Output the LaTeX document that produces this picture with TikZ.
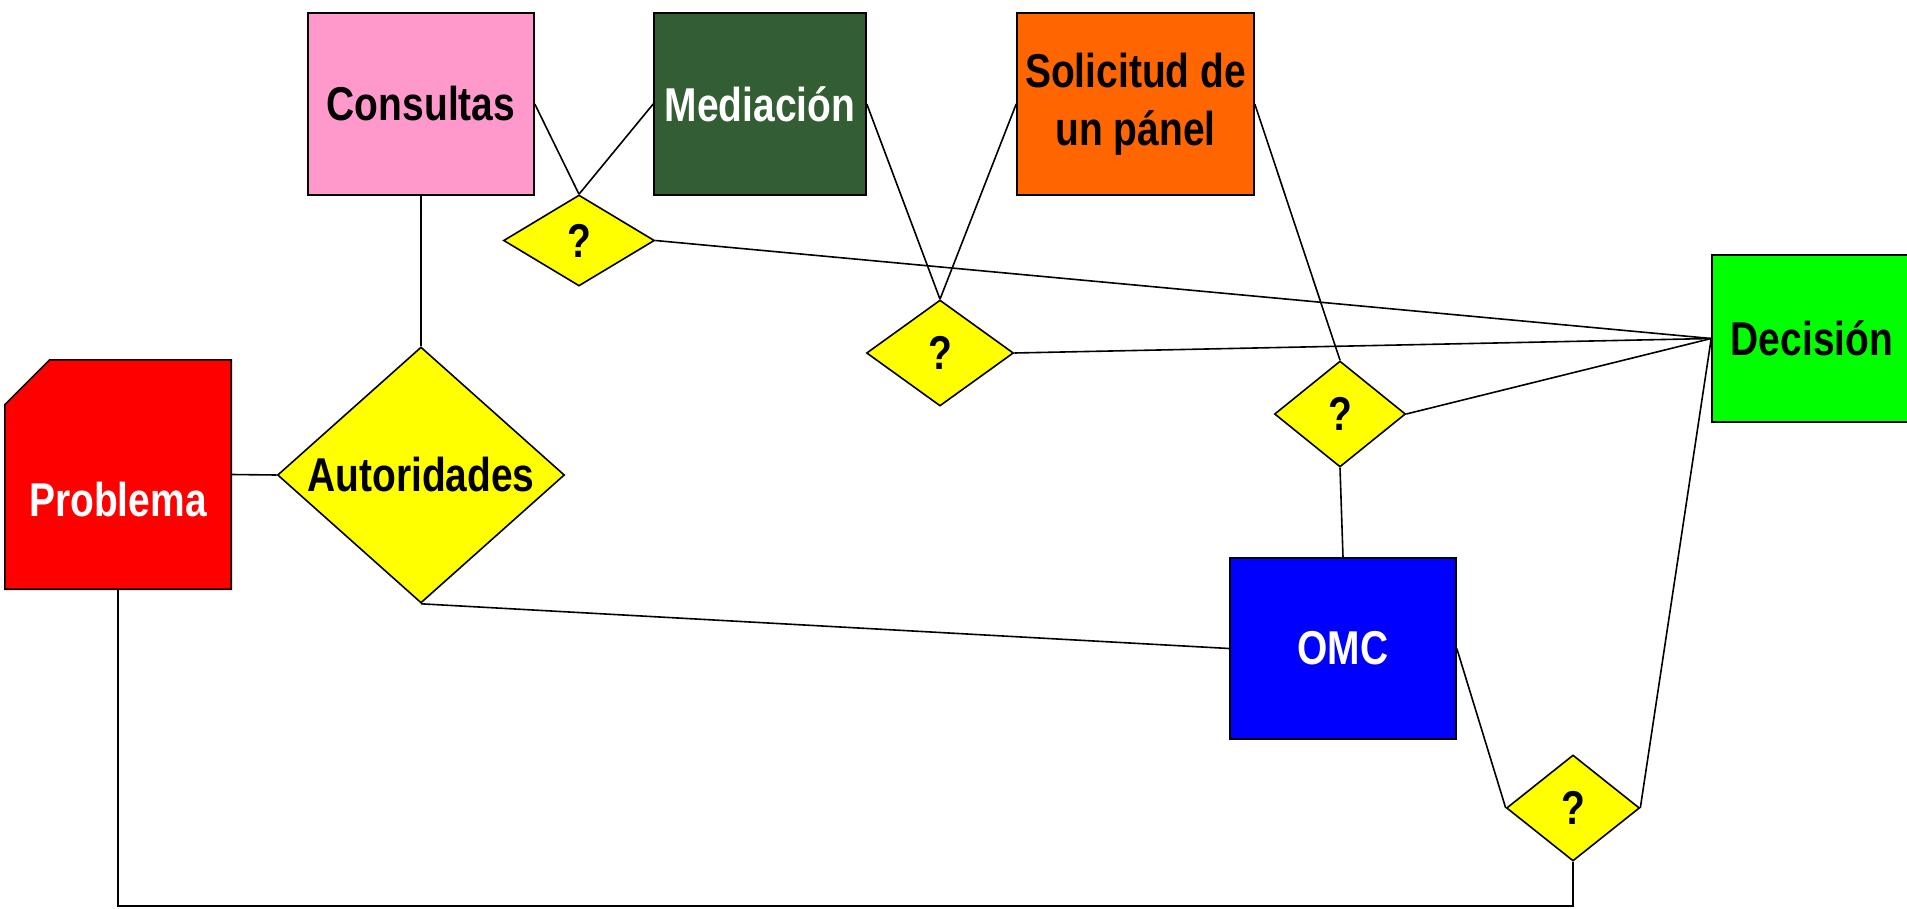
\documentclass[tikz,border=0pt]{standalone}
\usepackage{fontspec}
\setmainfont{Liberation Sans}[FakeStretch=0.82]
\usetikzlibrary{shapes.geometric}
\definecolor{cpink}{HTML}{FF99CC}
\definecolor{cdkgreen}{HTML}{335E33}
\definecolor{corange}{HTML}{FF6600}
\definecolor{cgreen}{HTML}{00FF00}
\definecolor{cred}{HTML}{FF0000}
\definecolor{cblue}{HTML}{0000FF}
\definecolor{cyellow}{HTML}{FFFF00}
\tikzset{
  txt/.style={font=\bfseries\fontsize{47.5}{58}\selectfont, align=center},
  boxnode/.style={draw=black, line width=1.6pt, inner sep=0pt, txt},
  dianode/.style={diamond, draw=black, fill=cyellow, line width=1.6pt, inner sep=0pt, txt},
  conn/.style={draw=black, line width=1.6pt},
}
\begin{document}
\begin{tikzpicture}[x=1pt,y=-1pt]
\useasboundingbox (0,0) rectangle (1907,908);
\node[boxnode, fill=cpink, minimum width=226pt, minimum height=182pt] (cons) at (421,104) {Consultas};
\node[boxnode, fill=cdkgreen, text=white, minimum width=212pt, minimum height=182pt] (med) at (760,104) {Mediación};
\node[boxnode, fill=corange, minimum width=237pt, minimum height=182pt] (sol) at (1135.5,104) {Solicitud de\\un pánel};
\node[boxnode, fill=cgreen, minimum width=200pt, minimum height=167pt] (dec) at (1812,338.5) {Decisión};
\node[boxnode, fill=cblue, text=white, minimum width=226pt, minimum height=181pt] (omc) at (1343,648.5) {OMC};
% Problema (chamfered)
\node[inner sep=0pt, minimum width=226pt, minimum height=229pt] (prob) at (118,474.5) {};
\fill[cred, draw=black, line width=1.6pt]
  ([yshift=-45pt]prob.north west) -- ([xshift=45pt]prob.north west)
  -- (prob.north east) -- (prob.south east) -- (prob.south west) -- cycle;
\node[txt, text=white] (probt) at (118,500) {Problema};
% diamonds
\node[dianode, minimum width=287pt, minimum height=256pt, label={[txt]center:Autoridades}] (aut) at (421,475) {};
\node[dianode, minimum width=151pt, minimum height=91pt] (q1) at (579,240.5) {?};
\node[dianode, minimum width=147pt, minimum height=106pt] (q2) at (940,353) {?};
\node[dianode, minimum width=131pt, minimum height=106pt] (q3) at (1340,414) {?};
\node[dianode, minimum width=133pt, minimum height=106pt] (q4) at (1573,808) {?};
\coordinate (bl) at (0,906);
% connectors
\draw[conn] (cons.east) -- (q1.north);
\draw[conn] (med.west) -- (q1.north);
\draw[conn] (cons.south) -- (aut.north);
\draw[conn] (prob.east) -- (aut.west);
\draw[conn] (aut.south) -- (omc.west);
\draw[conn] (med.east) -- (q2.north);
\draw[conn] (sol.west) -- (q2.north);
\draw[conn] (sol.east) -- (q3.north);
\draw[conn] (q1.east) -- (dec.west);
\draw[conn] (q2.east) -- (dec.west);
\draw[conn] (q3.east) -- (dec.west);
\draw[conn] (q3.south) -- (omc.north);
\draw[conn] (omc.east) -- (q4.west);
\draw[conn] (q4.east) -- (dec.west);
\draw[conn] (prob.south) -- (prob.south |- bl) -- (q4.south |- bl) -- (q4.south);
\end{tikzpicture}
\end{document}
